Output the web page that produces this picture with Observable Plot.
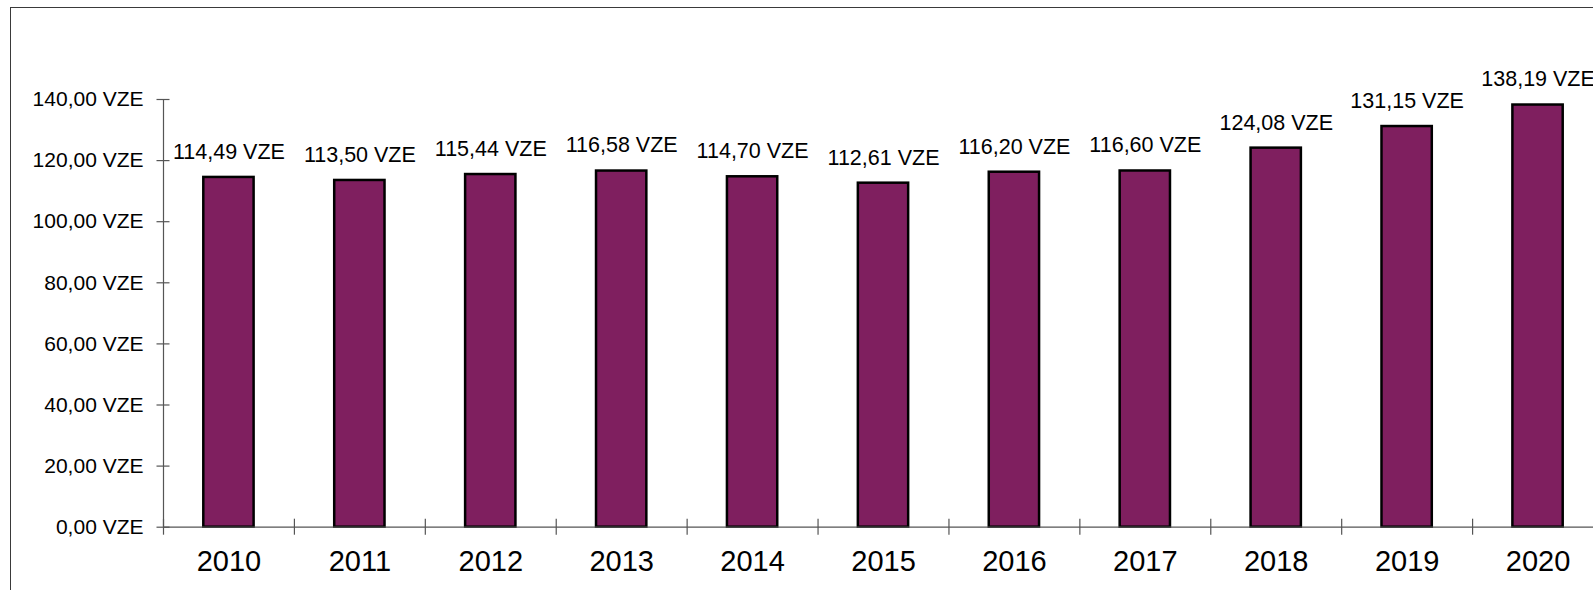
<!DOCTYPE html>
<html>
<head>
<meta charset="utf-8">
<script src="https://cdn.jsdelivr.net/npm/d3@7"></script>
<script src="https://cdn.jsdelivr.net/npm/@observablehq/plot@0.6"></script>
<style>
  html, body { margin: 0; padding: 0; background: #fff; overflow: hidden; width: 1593px; height: 590px; }
  #frame { position: absolute; left: 10px; top: 7px; width: 1700px; height: 700px; border: 1px solid #3a3a3a; box-sizing: border-box; }
  #chart { position: absolute; left: 0; top: 0; width: 1603px; height: 590px; }
  #chart svg { max-width: none !important; }
</style>
</head>
<body>
<div id="frame"></div>
<div id="chart"></div>
<script>
const years = [2010, 2011, 2012, 2013, 2014, 2015, 2016, 2017, 2018, 2019, 2020];
const values = [114.49, 113.50, 115.44, 116.58, 114.70, 112.61, 116.20, 116.60, 124.08, 131.15, 138.19];
const yTicks = [0, 20, 40, 60, 80, 100, 120, 140];
const unit = "VZE";

const data = years.map((year, i) => ({year, value: values[i]}));
const xDomain = [years[0] - 0.5, years[years.length - 1] + 0.5];
const boundaries = d3.range(years.length + 1).map(i => xDomain[0] + i);
const fmt = v => v.toFixed(2).replace(".", ",") + " " + unit;

const axisColor = "#555";

const chart = Plot.plot({
  width: 1603,
  height: 590,
  marginLeft: 163,
  marginRight: 0,
  marginTop: 99,
  marginBottom: 63.3,
  style: { fontFamily: "Arial, 'Liberation Sans', sans-serif", color: "#000", background: "transparent", maxWidth: "none" },
  x: { type: "linear", domain: xDomain },
  y: { domain: [0, 140] },
  marks: [
    Plot.rectY(data, {
      x1: d => d.year - 0.5, x2: d => d.year + 0.5, y: "value",
      insetLeft: 40.3, insetRight: 40.3,
      fill: "#7f1f5f", stroke: "#000", strokeWidth: 2.5
    }),
    Plot.ruleY([0], { stroke: axisColor, strokeWidth: 1.2 }),
    Plot.ruleX([xDomain[0]], { y1: 0, y2: 140, stroke: axisColor, strokeWidth: 1.2 }),
    Plot.ruleX(boundaries, { x: d => d, y1: 0, y2: 0, insetTop: -8, insetBottom: -8, stroke: axisColor, strokeWidth: 1.2 }),
    Plot.ruleY(yTicks, { y: d => d, x1: () => xDomain[0], x2: () => xDomain[0], insetLeft: -6.5, insetRight: -6.5, stroke: axisColor, strokeWidth: 1.2 }),
    Plot.axisY({ ticks: yTicks, tickSize: 0, tickPadding: 20, tickFormat: fmt, fontSize: 21, label: null }),
    Plot.axisX({ ticks: years, tickSize: 0, tickPadding: 23.5, tickFormat: d => String(d), fontSize: 29, label: null }),
    Plot.text(data, {
      x: "year", y: "value", text: d => fmt(d.value),
      dy: -25.5, fontSize: 21.5, fill: "#000"
    })
  ]
});
document.getElementById("chart").appendChild(chart);
</script>
</body>
</html>
